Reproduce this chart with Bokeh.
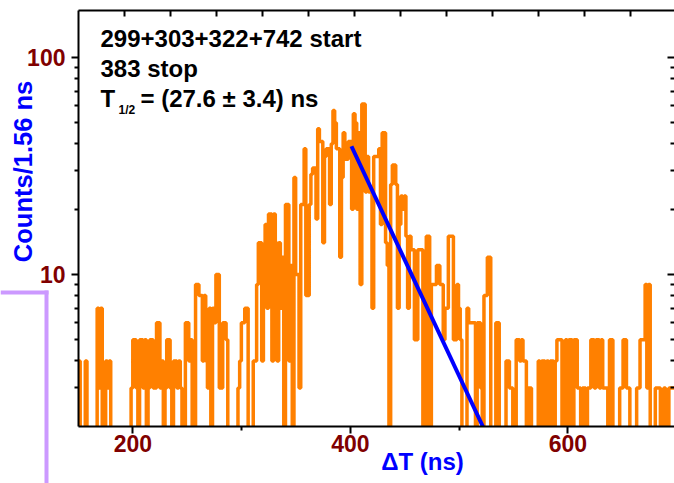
import numpy as np
from bokeh.plotting import figure
from bokeh.models import (LinearAxis, LogAxis, FixedTicker, Range1d, Label,
                          BoxAnnotation, PrintfTickFormatter,
                          CustomJSTickFormatter)
from bokeh.embed import file_html
from bokeh.resources import INLINE

# ---------------- data ----------------
bin_start_ns = 150.0
bin_width_ns = 1.56
counts = [
    4, 1, 1, 1, 4, 1, 1, 1, 1, 1,          # 0-9
    1, 7, 3, 7, 1, 1, 4, 3, 4, 1,          # 10-19
    1, 1, 1, 1, 1, 1, 1, 1, 1, 1,          # 20-29
    1, 3, 5, 5, 3, 1, 5, 5, 3, 5,          # 30-39
    1, 3, 5, 5, 3, 3, 6, 6, 3, 4,          # 40-49
    1, 3, 5, 5, 3, 1, 4, 4, 3, 4,          # 50-59
    3, 1, 1, 6, 6, 4, 5, 1, 1, 9,          # 60-69
    9, 8, 8, 4, 8, 4, 3, 7, 1, 7,          # 70-79
    6, 10, 10, 3, 3, 6, 6, 5, 1, 1,        # 80-89
    1, 1, 1, 1, 3, 4, 6, 6, 7, 7,          # 90-99
    1, 1, 1, 4, 4, 9, 14, 14, 4, 10,       # 100-109
    17, 7, 19, 19, 4, 19, 14, 4, 14, 7,    # 110-119
    12, 1, 21, 21, 4, 11, 1, 28, 10, 10,   # 120-129
    3, 21, 21, 38, 8, 8, 21, 29, 31, 31,   # 130-139
    18, 47, 41, 41, 14, 35, 38, 38, 21, 40,  # 140-149
    57, 50, 38, 38, 12, 28, 45, 34, 34, 41,  # 150-159
    41, 20, 55, 50, 20, 45, 9, 61, 61, 24,   # 160-169
    35, 24, 24, 7, 35, 35, 35, 38, 17, 45,   # 170-179
    45, 14, 11, 1, 26, 32, 32, 26, 7, 17,    # 180-189
    23, 20, 23, 15, 7, 15, 13, 13, 5, 5,     # 190-199
    13, 13, 13, 1, 1, 15, 15, 1, 9, 9,       # 200-209
    9, 11, 11, 9, 9, 5, 7, 7, 15, 15,        # 210-219
    15, 5, 5, 9, 7, 5, 1, 1, 1, 7,           # 220-229
    6, 6, 6, 6, 1, 6, 6, 3, 1, 8,            # 230-239
    8, 12, 12, 1, 1, 1, 6, 6, 1, 1,          # 240-249
    1, 1, 4, 4, 3, 3, 1, 1, 5, 5,            # 250-259
    4, 5, 4, 4, 1, 3, 3, 1, 1, 1,            # 260-269
    1, 4, 1, 4, 4, 1, 4, 1, 4, 4,            # 270-279
    1, 4, 5, 5, 5, 1, 1, 5, 1, 5,            # 280-289
    5, 1, 5, 5, 3, 3, 1, 3, 3, 1,            # 290-299
    3, 3, 5, 5, 3, 5, 5, 3, 5, 3,            # 300-309
    3, 3, 1, 5, 5, 1, 1, 1, 1, 3,            # 310-319
    3, 5, 5, 3, 3, 1, 1, 1, 1, 3,            # 320-329
    3, 5, 5, 5, 9, 3, 9, 1, 1, 1,            # 330-339
    3, 3, 3, 1, 1, 3, 1, 1, 3, 3,            # 340-349
    3, 3,                                    # 350-351
]
fit_t = [401.0, 530.0]
fit_counts = [39.0, 1.63]

x_major = [200, 400, 600]
x_minor = [300, 500]
y_major = [10, 100]
y_minor = [3, 4, 5, 6, 7, 8, 9, 20, 30, 40, 50, 60, 70, 80, 90]
top_ticks = [192.3 + 42.3 * k for k in range(12)]

text_line1 = "299+303+322+742 start"
text_line2 = "383 stop"
text_line3a = "T"
text_line3b = "1/2"
text_line3c = "= (27.6 \u00b1 3.4) ns"
x_title = "\u0394T (ns)"
y_title = "Counts/1.56 ns"

# ---------------- styles / layout ----------------
FONT = "Liberation Sans"
TICK_COLOR = "#800000"
ORANGE = "#FF8000"
BLUE = "#0000FF"
PURPLE = "#CC99FF"

# axes box (data limits of the drawn axes)
X_LO, X_HI = 150.0, 698.05
Y_LO, Y_HI = 2.0, 164.7
# the frame fills the whole canvas; axes are pinned at the box edges
p = figure(width=674, height=483, y_axis_type="log",
           x_range=Range1d(78.28, 698.05), y_range=Range1d(1.089, 183.1),
           output_backend="svg", toolbar_location=None,
           min_border_left=0, min_border_right=0, min_border_top=0,
           min_border_bottom=0, background_fill_color="white",
           border_fill_color="white")
p.outline_line_color = None
p.xgrid.visible = False
p.ygrid.visible = False

edges = bin_start_ns + bin_width_ns * np.arange(len(counts) + 1)
step_y = list(counts) + [counts[-1]]
r1 = p.step(edges, step_y, mode="after", line_color=ORANGE, line_width=3.5)
r2 = p.line(fit_t, fit_counts, line_color=BLUE, line_width=4)
r1.level = "underlay"
r2.level = "underlay"

# white mask below the x axis (hides counts that drop under the axis)
mask = BoxAnnotation(top=Y_LO, fill_color="white", fill_alpha=1.0,
                     line_color=None, level="underlay")
p.add_layout(mask)

blank = CustomJSTickFormatter(code="return ''")

def style_axis(ax, labels=True, inside=False):
    ax.axis_line_width = 2
    ax.axis_line_color = "black"
    ax.major_tick_line_width = 2
    ax.minor_tick_line_width = 2
    ax.major_tick_line_color = "black"
    ax.minor_tick_line_color = "black"
    if inside:
        ax.major_tick_in = 7
        ax.major_tick_out = 0
        ax.minor_tick_in = 4
        ax.minor_tick_out = 0
    else:
        ax.major_tick_in = 0
        ax.major_tick_out = 7
        ax.minor_tick_in = 0
        ax.minor_tick_out = 4
    ax.major_label_text_font = FONT
    ax.major_label_text_font_style = "bold"
    ax.major_label_text_font_size = "23px"
    ax.major_label_text_color = TICK_COLOR
    if not labels:
        ax.formatter = blank
        ax.major_label_standoff = 0

xa = p.xaxis[0]
xa.ticker = FixedTicker(ticks=x_major, minor_ticks=x_minor)
style_axis(xa)
xa.major_label_standoff = 2
xa.fixed_location = Y_LO
xa.bounds = (X_LO, X_HI)

ya = p.yaxis[0]
ya.ticker = FixedTicker(ticks=y_major, minor_ticks=y_minor)
ya.formatter = PrintfTickFormatter(format="%d")
style_axis(ya)
ya.major_label_standoff = 6
ya.fixed_location = X_LO
ya.bounds = (Y_LO, Y_HI)

top = LinearAxis(ticker=FixedTicker(ticks=top_ticks))
style_axis(top, labels=False, inside=True)
top.major_tick_in = 6
top.fixed_location = Y_HI
top.bounds = (X_LO, X_HI)
p.add_layout(top, "above")

right = LogAxis(ticker=FixedTicker(ticks=y_major, minor_ticks=y_minor))
style_axis(right, labels=False, inside=True)
right.axis_line_color = None
right.fixed_location = X_HI
right.bounds = (Y_LO, Y_HI)
p.add_layout(right, "right")

H = 483  # canvas height, for screen-unit placement (y measured upward)

def lab(x, y_top, text, size="24px", color="black", align="left",
        baseline="alphabetic", angle=0.0):
    p.add_layout(Label(x=x, y=H - y_top, text=text, text_font=FONT,
                       x_units="screen", y_units="screen",
                       text_font_style="bold", text_font_size=size,
                       text_color=color, text_align=align,
                       text_baseline=baseline, angle=angle))

lab(100, 38, text_line1)
lab(100, 68, text_line2)
lab(100, 98, text_line3a)
lab(118, 109, text_line3b, size="12px")
lab(140, 98, text_line3c)

lab(422, 461, x_title, size="24px", color=BLUE, align="center",
    baseline="middle")
lab(22, 171, y_title, size="25.5px", color=BLUE, align="center",
    baseline="middle", angle=np.pi / 2)

# decorative purple bracket at lower left
p.add_layout(BoxAnnotation(left=0, right=48, top=H - 290, bottom=H - 294,
                           left_units="screen", right_units="screen",
                           top_units="screen", bottom_units="screen",
                           fill_color=PURPLE, fill_alpha=1.0,
                           line_color=None))
p.add_layout(BoxAnnotation(left=44, right=48, top=H - 290, bottom=-5,
                           left_units="screen", right_units="screen",
                           top_units="screen", bottom_units="screen",
                           fill_color=PURPLE, fill_alpha=1.0,
                           line_color=None))

open("out.html", "w").write(file_html(p, INLINE))
